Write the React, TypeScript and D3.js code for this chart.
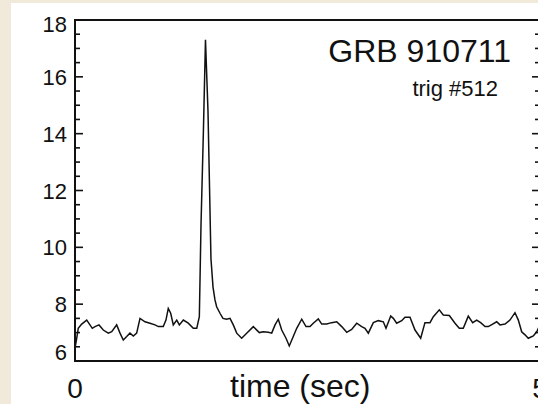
import React, { useEffect, useRef } from 'react';
import * as d3 from 'd3';

// light curve (time in sec, rate)
const times = [
  0, 0.016, 0.035, 0.072, 0.126, 0.186, 0.215, 0.258, 0.304, 0.358, 0.395, 0.448, 0.484, 0.519,
  0.556, 0.591, 0.627, 0.663, 0.699, 0.753, 0.806, 0.86, 0.896, 0.949, 0.978, 1.003, 1.029, 1.057,
  1.094, 1.122, 1.165, 1.218, 1.272, 1.309, 1.337, 1.355, 1.38, 1.403, 1.43, 1.446, 1.462, 1.484,
  1.505, 1.523, 1.559, 1.591, 1.631, 1.667, 1.702, 1.739, 1.792, 1.846, 1.917, 1.982, 2.025, 2.078,
  2.115, 2.151, 2.186, 2.223, 2.269, 2.304, 2.347, 2.384, 2.438, 2.484, 2.527, 2.562, 2.616, 2.653,
  2.706, 2.76, 2.814, 2.868, 2.922, 2.975, 3.029, 3.083, 3.118, 3.154, 3.208, 3.261, 3.315, 3.344,
  3.395, 3.423, 3.459, 3.513, 3.548, 3.602, 3.656, 3.717, 3.763, 3.817, 3.853, 3.917, 3.96, 4.025,
  4.086, 4.132, 4.175, 4.229, 4.276, 4.319, 4.362, 4.409, 4.444, 4.491, 4.534, 4.57, 4.624, 4.677,
  4.731, 4.767, 4.803, 4.839, 4.874, 4.928, 4.965, 5.0,
];
const rates = [
  6.45, 6.75, 7.15, 7.3, 7.44, 7.15, 7.21, 7.27, 7.09, 6.98, 7.03, 7.27, 6.98, 6.74,
  6.86, 6.98, 6.88, 6.98, 7.5, 7.38, 7.33, 7.27, 7.21, 7.21, 7.44, 7.85, 7.68, 7.27,
  7.44, 7.27, 7.44, 7.33, 7.15, 7.15, 7.56, 10.8, 14.0, 17.3, 14.8, 12.2, 9.6, 8.6,
  8.15, 7.91, 7.68, 7.5, 7.47, 7.5, 7.27, 6.98, 6.8, 6.98, 7.21, 7.0, 7.03, 7.01,
  6.98, 7.27, 7.47, 7.09, 6.8, 6.53, 6.86, 7.15, 7.47, 7.21, 7.21, 7.33, 7.48, 7.3,
  7.3, 7.35, 7.38, 7.21, 7.01, 7.11, 7.33, 7.21, 7.15, 6.98, 7.35, 7.42, 7.38, 7.15,
  7.58, 7.5, 7.33, 7.42, 7.54, 7.54, 7.09, 6.8, 7.35, 7.35, 7.56, 7.8, 7.62, 7.6,
  7.33, 7.15, 7.15, 7.58, 7.35, 7.44, 7.35, 7.21, 7.21, 7.3, 7.38, 7.27, 7.3, 7.44,
  7.7, 7.44, 7.03, 6.92, 6.8, 6.88, 7.03, 7.27,
];
const yMajor = [6, 8, 10, 12, 14, 16, 18];
const yMinor = d3.range(6.5, 18, 0.5).filter((v) => v % 2 !== 0);
const xLabels = [0, 5];
const title = 'GRB 910711';
const subtitle = 'trig #512';
const xTitle = 'time (sec)';

const W = 538;
const H = 404;

const Chart = () => {
  const ref = useRef<SVGSVGElement>(null);

  useEffect(() => {
    const left = 75;
    const right = 540;
    const top = 20;
    const bottom = 361;
    const ink = '#111';
    const font = '"Liberation Sans", Arial, Helvetica, sans-serif';

    const svg = d3.select(ref.current);
    svg.selectAll('*').remove();

    svg.append('rect').attr('width', W).attr('height', H).attr('fill', '#f1eadb');
    svg.append('rect').attr('x', 11).attr('y', 3).attr('width', W).attr('height', H).attr('fill', '#fff');

    const x = d3.scaleLinear().domain([0, 5]).range([left, right]);
    const y = d3.scaleLinear().domain([6, 18]).range([bottom, top]);

    // frame
    svg
      .append('path')
      .attr('d', `M${right},${top}H${left}V${bottom}H${right}`)
      .attr('fill', 'none')
      .attr('stroke', ink)
      .attr('stroke-width', 2);

    // ticks on left and right, pointing inward
    const ticks = svg.append('g').attr('stroke', ink).attr('stroke-width', 1.6);
    yMajor.forEach((v) => {
      ticks.append('line').attr('x1', left).attr('x2', left + 8).attr('y1', y(v)).attr('y2', y(v));
      ticks.append('line').attr('x1', right - 8).attr('x2', right).attr('y1', y(v)).attr('y2', y(v));
    });
    yMinor.forEach((v) => {
      ticks.append('line').attr('x1', left).attr('x2', left + 5).attr('y1', y(v)).attr('y2', y(v));
      ticks.append('line').attr('x1', right - 5).attr('x2', right).attr('y1', y(v)).attr('y2', y(v));
    });

    // y labels, end ones pulled inside the frame
    svg
      .append('g')
      .selectAll('text')
      .data(yMajor)
      .enter()
      .append('text')
      .attr('x', 67)
      .attr('y', (d) => Math.min(Math.max(y(d), top + 4), bottom - 9) + 8)
      .attr('text-anchor', 'end')
      .attr('font-family', font)
      .attr('font-size', 22)
      .attr('fill', ink)
      .text((d) => d);

    // x labels
    svg
      .append('g')
      .selectAll('text')
      .data(xLabels)
      .enter()
      .append('text')
      .attr('x', (d) => x(d))
      .attr('y', 398)
      .attr('text-anchor', 'middle')
      .attr('font-family', font)
      .attr('font-size', 28)
      .attr('fill', ink)
      .text((d) => d);

    svg
      .append('text')
      .attr('x', 230)
      .attr('y', 397)
      .attr('font-family', font)
      .attr('font-size', 32)
      .attr('fill', ink)
      .text(xTitle);

    svg
      .append('text')
      .attr('x', 511)
      .attr('y', 62)
      .attr('text-anchor', 'end')
      .attr('font-family', font)
      .attr('font-size', 32)
      .attr('fill', ink)
      .text(title);

    svg
      .append('text')
      .attr('x', 498)
      .attr('y', 96)
      .attr('text-anchor', 'end')
      .attr('font-family', font)
      .attr('font-size', 22)
      .attr('fill', ink)
      .text(subtitle);

    const line = d3
      .line<number>()
      .x((d, i) => x(times[i]))
      .y((d) => y(d));

    svg
      .append('path')
      .datum(rates)
      .attr('d', line)
      .attr('fill', 'none')
      .attr('stroke', ink)
      .attr('stroke-width', 1.5)
      .attr('stroke-linejoin', 'miter');
  }, []);

  return (
    <svg
      ref={ref}
      width={W}
      height={H}
      style={{ position: 'fixed', left: 0, top: 0, display: 'block' }}
    />
  );
};

export default function App() {
  return <Chart />;
}
